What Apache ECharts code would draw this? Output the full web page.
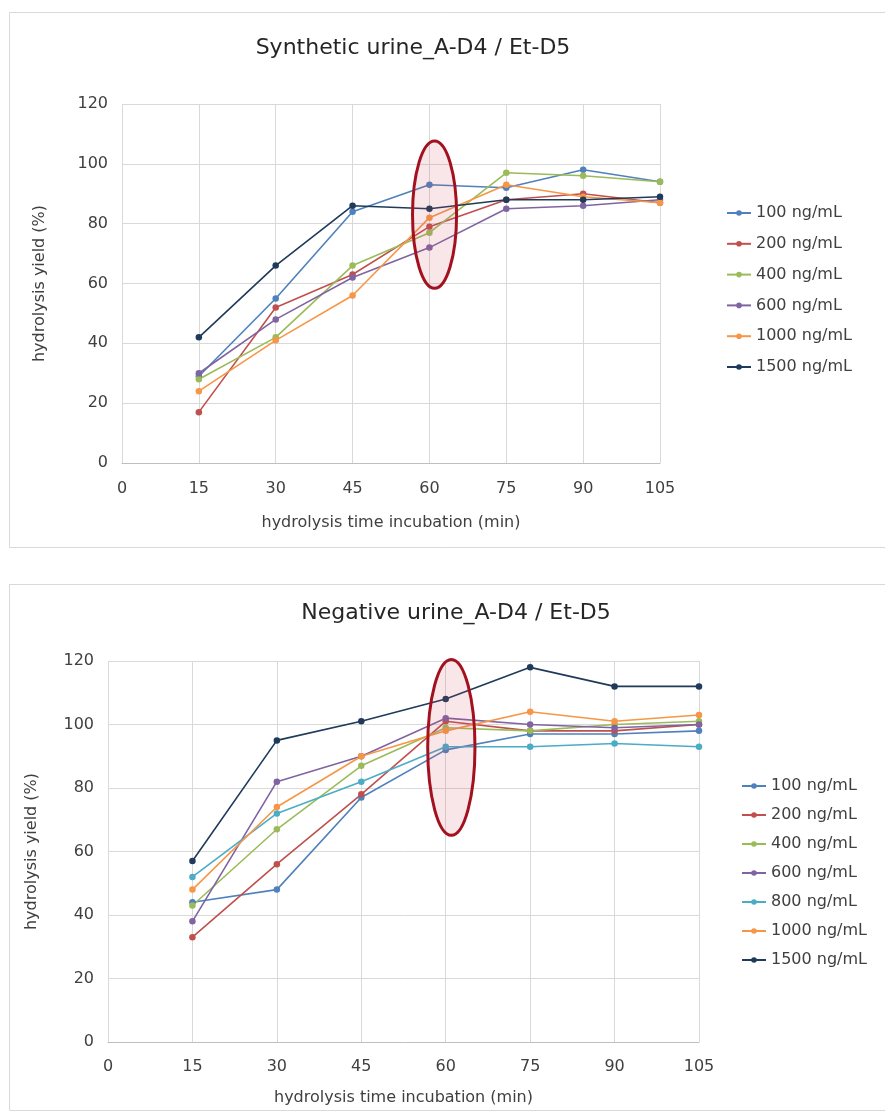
<!DOCTYPE html>
<html>
<head>
<meta charset="utf-8">
<script src="https://cdn.jsdelivr.net/npm/echarts@6/dist/echarts.min.js"></script>
<style>
html,body{margin:0;padding:0;background:#fff;}
#c{width:885px;height:1115px;}
</style>
</head>
<body>
<div id="c"></div>
<script>
// ---- data ----
const times = [15, 30, 45, 60, 75, 90, 105];
const xTicks = [0, 15, 30, 45, 60, 75, 90, 105];
const yTicks = [0, 20, 40, 60, 80, 100, 120];

const synNames = ['100 ng/mL', '200 ng/mL', '400 ng/mL', '600 ng/mL', '1000 ng/mL', '1500 ng/mL'];
const syn100  = [29, 55, 84, 93, 92, 98, 94];
const syn200  = [17, 52, 63, 79, 88, 90, 87];
const syn400  = [28, 42, 66, 77, 97, 96, 94];
const syn600  = [30, 48, 62, 72, 85, 86, 88];
const syn1000 = [24, 41, 56, 82, 93, 89, 87];
const syn1500 = [42, 66, 86, 85, 88, 88, 89];

const negNames = ['100 ng/mL', '200 ng/mL', '400 ng/mL', '600 ng/mL', '800 ng/mL', '1000 ng/mL', '1500 ng/mL'];
const neg100  = [44, 48, 77, 92, 97, 97, 98];
const neg200  = [33, 56, 78, 101, 98, 98, 100];
const neg400  = [43, 67, 87, 99, 98, 100, 101];
const neg600  = [38, 82, 90, 102, 100, 99, 100];
const neg800  = [52, 72, 82, 93, 93, 94, 93];
const neg1000 = [48, 74, 90, 98, 104, 101, 103];
const neg1500 = [57, 95, 101, 108, 118, 112, 112];

// highlighted region (data units): center x, center y, half width, half height
const synHighlight = [61, 83, 4.3, 24.6];
const negHighlight = [61, 92.8, 4.2, 27.7];

const titles = ['Synthetic urine_A-D4 / Et-D5', 'Negative urine_A-D4 / Et-D5'];
const xName = 'hydrolysis time incubation (min)';
const yName = 'hydrolysis yield (%)';

// ---- styles ----
const FONT = 'DejaVu Sans';
const colors = {
  '100 ng/mL': '#4f81bd',
  '200 ng/mL': '#c0504d',
  '400 ng/mL': '#9bbb59',
  '600 ng/mL': '#8064a2',
  '800 ng/mL': '#4bacc6',
  '1000 ng/mL': '#f79646',
  '1500 ng/mL': '#1f3a5a'
};
const synData = [syn100, syn200, syn400, syn600, syn1000, syn1500];
const negData = [neg100, neg200, neg400, neg600, neg800, neg1000, neg1500];

function pairs(vals){ return times.map((t,i)=>[t, vals[i]]); }

function mkSeries(names, datas, idx){
  return names.map((n,i)=>({
    name: n, type: 'line', xAxisIndex: idx, yAxisIndex: idx,
    data: pairs(datas[i]),
    symbol: 'circle', symbolSize: 6.5,
    lineStyle: {width: 1.6, color: colors[n]},
    itemStyle: {color: colors[n]},
    emphasis: {disabled: true},
    z: 3
  }));
}

const grids = [
  {left: 122, top: 104, width: 538, height: 359},
  {left: 108, top: 661, width: 591, height: 381}
];

function xAx(i, gap, margin){
  return {
    type: 'value', gridIndex: i, min: 0, max: 105, interval: 15,
    name: xName, nameLocation: 'middle', nameGap: gap,
    nameTextStyle: {fontFamily: FONT, fontSize: 16, color: '#404040'},
    axisLine: {show: true, lineStyle: {color: '#bfbfbf', width: 1}},
    axisTick: {show: false},
    axisLabel: {fontFamily: FONT, fontSize: 16, color: '#404040', margin: margin,
      formatter: v => xTicks.includes(v) ? String(v) : ''},
    splitLine: {show: true, lineStyle: {color: '#d9d9d9', width: 1}}
  };
}
function yAx(i, gap){
  return {
    type: 'value', gridIndex: i, min: 0, max: 120, interval: 20,
    name: yName, nameLocation: 'middle', nameGap: gap, nameRotate: 90,
    nameTextStyle: {fontFamily: FONT, fontSize: 16, color: '#404040'},
    axisLine: {show: false},
    axisTick: {show: false},
    axisLabel: {fontFamily: FONT, fontSize: 16, color: '#404040', margin: 14,
      formatter: v => yTicks.includes(v) ? String(v) : ''},
    splitLine: {show: true, lineStyle: {color: '#d9d9d9', width: 1}}
  };
}

const chart = echarts.init(document.getElementById('c'), null, {renderer: 'canvas'});
chart.setOption({
  animation: false,
  backgroundColor: '#ffffff',
  title: [
    {text: titles[0], left: 408, top: 32, textAlign: 'center',
     textStyle: {fontFamily: FONT, fontSize: 22, fontWeight: 'normal', color: '#262626'}},
    {text: titles[1], left: 451, top: 597, textAlign: 'center',
     textStyle: {fontFamily: FONT, fontSize: 22, fontWeight: 'normal', color: '#262626'}}
  ],
  legend: [
    {data: synNames, orient: 'vertical', left: 721, top: 199, itemWidth: 24, itemHeight: 7, itemGap: 12.8,
     textStyle: {fontFamily: FONT, fontSize: 16, color: '#404040', lineHeight: 18}, selectedMode: false},
    {data: negNames, orient: 'vertical', left: 736, top: 772, itemWidth: 24, itemHeight: 7, itemGap: 11,
     textStyle: {fontFamily: FONT, fontSize: 16, color: '#404040', lineHeight: 18}, selectedMode: false}
  ],
  grid: grids,
  xAxis: [xAx(0, 52, 18), xAx(1, 48, 17)],
  yAxis: [yAx(0, 74), yAx(1, 68)],
  series: mkSeries(synNames, synData, 0).concat(mkSeries(negNames, negData, 1))
});

function ellipseFor(gi, h){
  const c = chart.convertToPixel({gridIndex: gi}, [h[0], h[1]]);
  const e = chart.convertToPixel({gridIndex: gi}, [h[0] + h[2], h[1] + h[3]]);
  return {
    type: 'ellipse', z: 10,
    shape: {cx: c[0], cy: c[1], rx: Math.abs(e[0]-c[0]), ry: Math.abs(e[1]-c[1])},
    style: {fill: 'rgba(205, 80, 100, 0.14)', stroke: '#a3111f', lineWidth: 3}
  };
}

chart.setOption({
  graphic: [
    {type: 'rect', z: 0, shape: {x: 9.5, y: 12.5, width: 880, height: 535},
     style: {fill: 'none', stroke: '#d9d9d9', lineWidth: 1}},
    {type: 'rect', z: 0, shape: {x: 9.5, y: 584.5, width: 880, height: 526},
     style: {fill: 'none', stroke: '#d9d9d9', lineWidth: 1}},
    ellipseFor(0, synHighlight),
    ellipseFor(1, negHighlight)
  ]
});
</script>
</body>
</html>
